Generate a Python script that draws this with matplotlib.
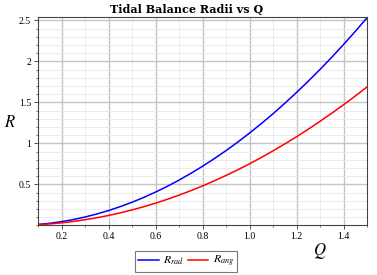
import matplotlib
matplotlib.use("Agg")
import matplotlib.pyplot as plt
from matplotlib.ticker import MultipleLocator, FixedLocator

plt.rcParams["mathtext.fontset"] = "stix"

# ── Data ──────────────────────────────────────────────────────────────────────
q = [0.10, 0.15, 0.20, 0.25, 0.30, 0.35, 0.40, 0.45, 0.50, 0.55,
     0.60, 0.65, 0.70, 0.75, 0.80, 0.85, 0.90, 0.95, 1.00, 1.05,
     1.10, 1.15, 1.20, 1.25, 1.30, 1.35, 1.40, 1.45, 1.50]
r_rad = [0.011, 0.025, 0.045, 0.070, 0.101, 0.138, 0.180, 0.228, 0.281, 0.340,
         0.405, 0.475, 0.551, 0.633, 0.720, 0.813, 0.911, 1.015, 1.125, 1.240,
         1.361, 1.488, 1.620, 1.758, 1.901, 2.050, 2.205, 2.365, 2.531]
r_ang = [0.0075, 0.017, 0.030, 0.047, 0.068, 0.092, 0.120, 0.152, 0.188, 0.227,
         0.270, 0.317, 0.368, 0.422, 0.480, 0.542, 0.608, 0.677, 0.750, 0.827,
         0.908, 0.992, 1.080, 1.172, 1.268, 1.367, 1.470, 1.577, 1.688]

x_ticks = [0.2, 0.4, 0.6, 0.8, 1.0, 1.2, 1.4]
x_labels = ["0.2", "0.4", "0.6", "0.8", "1.0", "1.2", "1.4"]
y_ticks = [0.5, 1.0, 1.5, 2.0, 2.5]
y_labels = ["0.5", "1", "1.5", "2", "2.5"]

SERIF = ["Liberation Serif", "DejaVu Serif"]

fig = plt.figure(figsize=(3.77, 2.75), dpi=100)
ax = fig.add_axes([0.1008, 0.1807, 0.8727, 0.7563])

ax.plot(q, r_rad, color="#0000ff", lw=1.1, label=r"$R_{rad}$")
ax.plot(q, r_ang, color="#ff0000", lw=1.1, label=r"$R_{ang}$")

ax.set_xlim(0.1, 1.5)
ax.set_ylim(0, 2.537)

ax.xaxis.set_major_locator(FixedLocator(x_ticks))
ax.set_xticklabels(x_labels)
ax.xaxis.set_minor_locator(MultipleLocator(0.1))
ax.yaxis.set_major_locator(FixedLocator(y_ticks))
ax.set_yticklabels(y_labels)
ax.yaxis.set_minor_locator(MultipleLocator(0.1))

ax.grid(which="major", color="#c4c4c4", lw=1.0)
ax.grid(which="minor", color="#ebebeb", lw=0.7)
ax.set_axisbelow(True)

ax.tick_params(which="major", direction="out", length=3, width=0.6,
               labelsize=7, pad=2, color="#333333")
ax.tick_params(which="minor", direction="out", length=1.5, width=0.5,
               color="#333333")
for lab in ax.get_xticklabels() + ax.get_yticklabels():
    lab.set_family(SERIF)

for sp in ax.spines.values():
    sp.set_color("#444444")
    sp.set_linewidth(0.8)

fig.text(0.494, 0.965, "Tidal Balance Radii vs Q", fontsize=8.0,
         fontweight="bold", family=["DejaVu Serif"], ha="center", va="center")

fig.text(0.027, 0.555, r"$R$", fontsize=12, ha="center", va="center")
fig.text(0.848, 0.088, r"$Q$", fontsize=12, ha="center", va="center")

leg = fig.legend(loc="center", bbox_to_anchor=(0.494, 0.049), ncol=2,
                 fontsize=8.5, frameon=True, fancybox=False, handlelength=1.7,
                 handletextpad=0.35, columnspacing=0.4, borderpad=0.25,
                 borderaxespad=0)
leg.get_frame().set_edgecolor("#555555")
leg.get_frame().set_linewidth(0.8)

fig.savefig("out.png", dpi=100)
